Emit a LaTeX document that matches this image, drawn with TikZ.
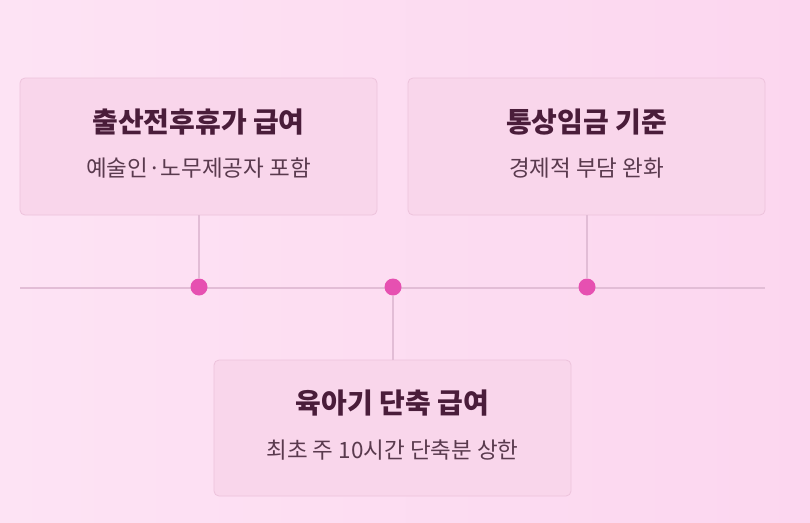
\documentclass[tikz,border=0pt]{standalone}
\usepackage{fontspec}
\setmainfont{Noto Sans CJK KR}
\begin{document}
\begin{tikzpicture}[x=1pt,y=-1pt,
  card/.style={draw=cardline,fill=cardfill,rounded corners=5pt,line width=0.8pt},
  ttl/.style={font=\fontsize{28}{32}\selectfont\bfseries,text=ttlc},
  sub/.style={font=\fontsize{22.5}{26}\selectfont,text=subc},
  dot/.style={circle,fill=dotc,minimum size=17pt,inner sep=0pt},
  conn/.style={draw=linec,line width=1.6pt}]
\definecolor{bgA}{HTML}{FDE3F4}
\definecolor{bgB}{HTML}{FCD6EF}
\definecolor{cardfill}{HTML}{F9D6EB}
\definecolor{cardline}{HTML}{EDC3DC}
\definecolor{ttlc}{HTML}{4A1D3A}
\definecolor{subc}{HTML}{5A3A4E}
\definecolor{dotc}{HTML}{E650B1}
\definecolor{linec}{HTML}{E2BDD6}
\shade[left color=bgA,right color=bgB] (0,0) rectangle (810,522);
\useasboundingbox (0,0) rectangle (810,522);
\coordinate (L) at (20,288);
\coordinate (R) at (765,288);
\draw[conn] (L) -- (R);
\path[card] (20,78) rectangle (377,215);
\path[card] (408,78) rectangle (765,215);
\path[card] (214,360) rectangle (571,496);
\coordinate (b1) at (199,215);
\coordinate (b2) at (587,215);
\coordinate (b3) at (393,360);
\node[dot] (d1) at (199,287) {};
\node[dot] (d2) at (393,287) {};
\node[dot] (d3) at (587,287) {};
\draw[conn] (b1) -- (d1);
\draw[conn] (b2) -- (d3);
\draw[conn] (b3) -- (d2);
\node[ttl] (t1) at (198.5,122) {출산전후휴가 급여};
\node[sub] (s1) at (198.5,168) {예술인·노무제공자 포함};
\node[ttl] (t2) at (586.5,122) {통상임금 기준};
\node[sub] (s2) at (586.5,168) {경제적 부담 완화};
\node[ttl] (t3) at (392.5,403) {육아기 단축 급여};
\node[sub] (s3) at (392.5,450) {최초 주 10시간 단축분 상한};
\end{tikzpicture}
\end{document}
